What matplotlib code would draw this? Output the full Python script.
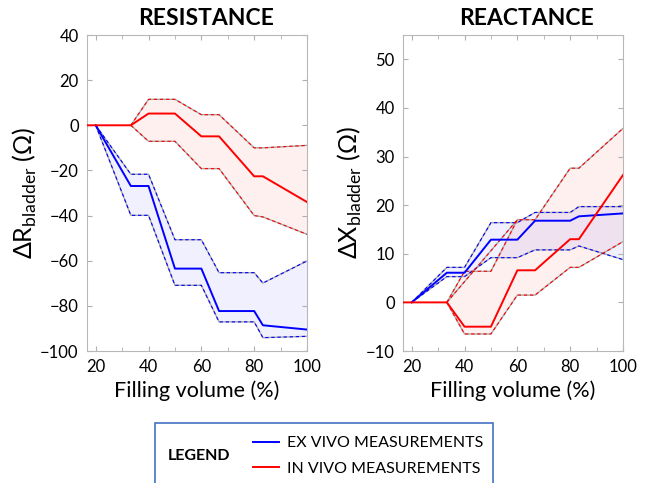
import numpy as np
import matplotlib
matplotlib.use('Agg')
import matplotlib.pyplot as plt
from matplotlib.patches import Rectangle
from matplotlib.ticker import MultipleLocator

plt.rcParams['font.family'] = ['Lato', 'DejaVu Sans']
plt.rcParams['mathtext.fontset'] = 'custom'
plt.rcParams['mathtext.rm'] = 'Lato'

# filling volume grids (%)
x_ex = [20, 33.3, 40, 50, 60, 66.7, 80, 83.3, 100]
x_in = [16.7, 33.3, 40, 50, 60, 66.7, 80, 83.3, 100]
x_in_band = [33.3, 40, 50, 60, 66.7, 80, 83.3, 100]

# resistance (ohm)
res_ex_mean = [0, -26.9, -26.9, -63.5, -63.5, -82.3, -82.3, -88.6, -90.5]
res_ex_upper = [0, -21.7, -21.7, -50.7, -50.7, -65.3, -65.3, -69.9, -60.1]
res_ex_lower = [0, -39.9, -39.9, -70.9, -70.9, -87.1, -87.1, -94.1, -93.5]
res_in_mean = [0, 0, 5.2, 5.2, -4.9, -4.9, -22.6, -22.6, -34.0]
res_in_upper = [0, 11.5, 11.5, 4.7, 4.7, -10.0, -10.0, -8.9]
res_in_lower = [0, -7.1, -7.1, -19.2, -19.2, -40.0, -40.6, -48.3]

# reactance (ohm)
rea_ex_mean = [0, 6.1, 6.1, 12.9, 12.9, 16.8, 16.8, 17.7, 18.3]
rea_ex_upper = [0, 7.2, 7.2, 16.4, 16.4, 18.5, 18.5, 19.7, 19.7]
rea_ex_lower = [0, 5.3, 5.3, 9.2, 9.2, 10.8, 10.8, 11.6, 8.8]
rea_in_mean = [0, 0, -5.0, -5.0, 6.6, 6.6, 13.0, 13.0, 26.2]
rea_in_upper = [0, 6.4, 6.4, 17.0, 17.0, 27.6, 27.6, 35.8]
rea_in_lower = [0, -6.5, -6.5, 1.5, 1.5, 7.2, 7.2, 12.5]
rea_in_diag_x = [33.3, 60]
rea_in_diag_y = [0, 17.0]

BLUE = '#0000ff'
RED = '#ff0000'
EDGE = '#a8a8a8'

fig = plt.figure(figsize=(6.55, 4.83), dpi=100)
axL = fig.add_axes([87/655, 1-351/483, 220/655, 316/483])
axR = fig.add_axes([403/655, 1-351/483, 220/655, 316/483])


def band(ax, x, lo, hi, color):
    ax.fill_between(x, lo, hi, facecolor=color, alpha=0.06, edgecolor='none', zorder=1)
    for y in (lo, hi):
        ax.plot(x, y, color=EDGE, lw=1.0, zorder=2)
        ax.plot(x, y, color=color, lw=0.8, ls=(0, (3, 2.5)), zorder=3)


band(axL, x_ex, res_ex_lower, res_ex_upper, BLUE)
band(axL, x_in_band, res_in_lower, res_in_upper, RED)
lb, = axL.plot(x_ex, res_ex_mean, color=BLUE, lw=1.4, zorder=4)
lr, = axL.plot(x_in, res_in_mean, color=RED, lw=1.4, zorder=5)

band(axR, x_ex, rea_ex_lower, rea_ex_upper, BLUE)
band(axR, x_in_band, rea_in_lower, rea_in_upper, RED)
axR.plot(rea_in_diag_x, rea_in_diag_y, color=EDGE, lw=1.0, zorder=2)
axR.plot(rea_in_diag_x, rea_in_diag_y, color=RED, lw=0.8, ls=(0, (3, 2.5)), zorder=3)
axR.plot(x_ex, rea_ex_mean, color=BLUE, lw=1.4, zorder=4)
axR.plot(x_in, rea_in_mean, color=RED, lw=1.4, zorder=5)

axL.set_ylim(-100, 40)
axL.yaxis.set_major_locator(MultipleLocator(20))
axR.set_ylim(-10, 55)
axR.yaxis.set_major_locator(MultipleLocator(10))

for ax in (axL, axR):
    ax.set_xlim(16.7, 100)
    ax.xaxis.set_major_locator(MultipleLocator(20))
    ax.xaxis.set_minor_locator(MultipleLocator(10))
    ax.tick_params(which='both', direction='in', top=True, right=True,
                   color='#b0b0b0', labelsize=12, pad=6)
    ax.tick_params(which='major', length=3.5)
    ax.tick_params(which='minor', length=3)
    for s in ax.spines.values():
        s.set_color('#b8b8b8')
        s.set_linewidth(0.8)
    ax.set_xlabel('Filling volume (%)', fontsize=15.5, labelpad=4)

axL.set_title('RESISTANCE', fontsize=16.5, fontweight='bold', x=0.54, pad=7)
axR.set_title('REACTANCE', fontsize=16.5, fontweight='bold', x=0.56, pad=7)
axL.set_ylabel(r'$\Delta$R$_{\mathregular{bladder}}$ (Ω)', fontsize=18, labelpad=1)
axR.set_ylabel(r'$\Delta$X$_{\mathregular{bladder}}$ (Ω)', fontsize=18, labelpad=1)

# legend box
fig.patches.append(Rectangle((155/655, -0.05), 338/655, 0.05 + (483-423)/483,
                             transform=fig.transFigure, fill=False,
                             edgecolor='#4472c4', lw=1.2))
fig.text(168/655, 1-456/483, 'LEGEND', fontsize=11.5, fontweight='bold', va='center')
fig.legend([lb, lr], ['EX VIVO MEASUREMENTS', 'IN VIVO MEASUREMENTS'],
           loc='center left', bbox_to_anchor=(253/655, 1-456/483), frameon=False,
           fontsize=11.5, handlelength=1.65, handletextpad=0.45, labelspacing=0.7,
           borderpad=0, borderaxespad=0)

fig.savefig('out.png', dpi=100)
